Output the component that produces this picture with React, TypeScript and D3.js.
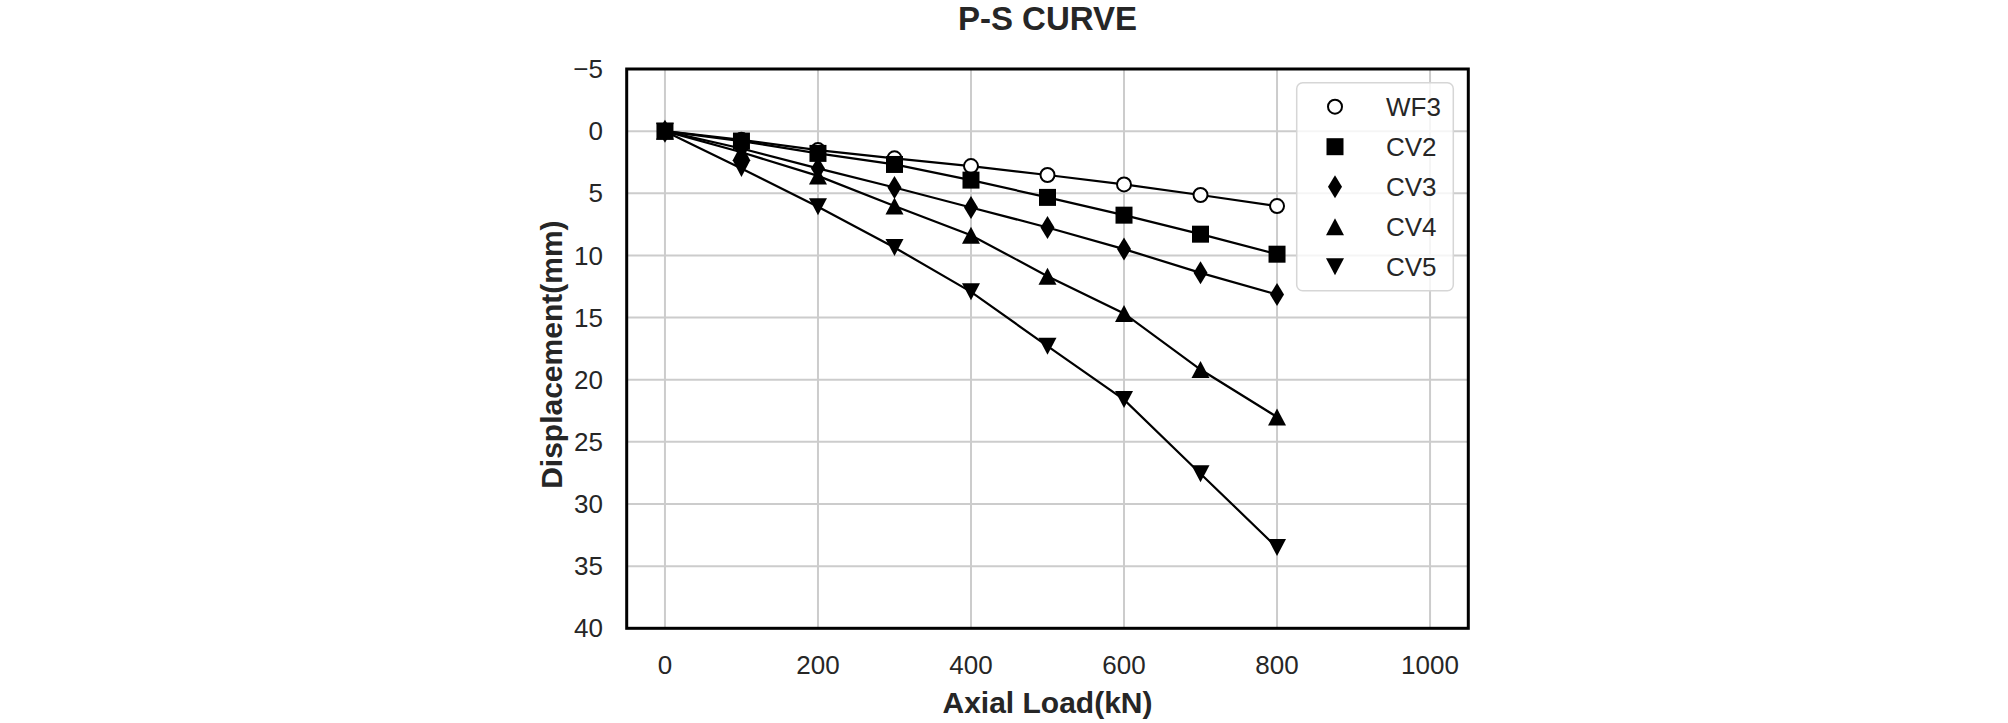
import React, { useRef, useEffect } from 'react'
import * as d3 from "d3";

// axial load steps (kN)
const loads = [0, 100, 200, 300, 400, 500, 600, 700, 800];

// displacement (mm) for each pile
const wf3 = [0, 0.7, 1.52, 2.19, 2.81, 3.53, 4.29, 5.14, 6.03];
const cv2 = [0, 0.8, 1.79, 2.68, 3.94, 5.33, 6.76, 8.29, 9.9];
const cv3 = [0, 1.4, 3.0, 4.53, 6.14, 7.75, 9.49, 11.4, 13.14];
const cv4 = [0, 1.7, 3.6, 6.03, 8.37, 11.67, 14.67, 19.18, 23.0];
const cv5 = [0, 3.0, 6.08, 9.36, 12.93, 17.3, 21.6, 27.56, 33.5];

const seriesNames = ["WF3", "CV2", "CV3", "CV4", "CV5"];
const seriesValues = [wf3, cv2, cv3, cv4, cv5];
const markerShapes = ["circle", "square", "diamond", "triangleUp", "triangleDown"];

const xTicks = [0, 200, 400, 600, 800, 1000];
const yTicks = [-5, 0, 5, 10, 15, 20, 25, 30, 35, 40];

const FONT = "'Liberation Sans', Arial, Helvetica, sans-serif";
const TEXT = "#262626";

// marker path centred on 0,0
const markerPath = (shape) => {
    switch (shape) {
        case "square":
            return "M-8.5,-8.5H8.5V8.5H-8.5Z";
        case "diamond":
            return "M0,-11.5L7,0L0,11.5L-7,0Z";
        case "triangleUp":
            return "M0,-8.5L9,8.5L-9,8.5Z";
        case "triangleDown":
            return "M0,8.5L9,-8.5L-9,-8.5Z";
        default:
            return null;
    }
};

function App() {

    const chartRef = useRef(null);

    useEffect(() => {
        drawChart();
    }, []);

    const drawChart = () => {
        if (!chartRef.current) return;

        const width = 2008;
        const height = 723;

        // plot frame
        const left = 626.7, right = 1468.3, top = 69, bottom = 628.3;

        d3.select(chartRef.current).selectAll("*").remove();

        const svg = d3.select(chartRef.current)
            .attr("width", width)
            .attr("height", height);

        const x = d3.scaleLinear().domain([-50, 1050]).range([left, right]);
        const y = d3.scaleLinear().domain([-5, 40]).range([top, bottom]);

        // background
        svg.append("rect")
            .attr("width", width)
            .attr("height", height)
            .attr("fill", "#fff");

        // grid
        const grid = svg.append("g");
        grid.selectAll(".vgrid")
            .data(xTicks)
            .enter()
            .append("line")
            .attr("x1", d => x(d))
            .attr("x2", d => x(d))
            .attr("y1", top)
            .attr("y2", bottom)
            .attr("stroke", "#cccccc")
            .attr("stroke-width", 2);

        grid.selectAll(".hgrid")
            .data(yTicks)
            .enter()
            .append("line")
            .attr("x1", left)
            .attr("x2", right)
            .attr("y1", d => y(d))
            .attr("y2", d => y(d))
            .attr("stroke", "#cccccc")
            .attr("stroke-width", 2);

        // tick labels
        svg.selectAll(".xtick")
            .data(xTicks)
            .enter()
            .append("text")
            .attr("x", d => x(d))
            .attr("y", 674)
            .attr("text-anchor", "middle")
            .attr("font-family", FONT)
            .attr("font-size", 26)
            .attr("fill", TEXT)
            .text(d => d);

        svg.selectAll(".ytick")
            .data(yTicks)
            .enter()
            .append("text")
            .attr("x", 603)
            .attr("y", d => y(d))
            .attr("dy", "0.35em")
            .attr("text-anchor", "end")
            .attr("font-family", FONT)
            .attr("font-size", 26)
            .attr("fill", TEXT)
            .text(d => (d < 0 ? "\u2212" + Math.abs(d) : d));

        // lines and markers
        const line = d3.line()
            .x((d, i) => x(loads[i]))
            .y(d => y(d));

        seriesValues.forEach((vals, si) => {
            const g = svg.append("g");
            g.append("path")
                .attr("d", line(vals))
                .attr("fill", "none")
                .attr("stroke", "#000")
                .attr("stroke-width", 2.2);

            const shape = markerShapes[si];
            if (shape === "circle") {
                g.selectAll("circle")
                    .data(vals)
                    .enter()
                    .append("circle")
                    .attr("cx", (d, i) => x(loads[i]))
                    .attr("cy", d => y(d))
                    .attr("r", 7)
                    .attr("fill", "#fff")
                    .attr("stroke", "#000")
                    .attr("stroke-width", 2);
            } else {
                g.selectAll(".mk")
                    .data(vals)
                    .enter()
                    .append("path")
                    .attr("d", markerPath(shape))
                    .attr("transform", (d, i) => `translate(${x(loads[i])},${y(d)})`)
                    .attr("fill", "#000");
            }
        });

        // frame
        svg.append("rect")
            .attr("x", left)
            .attr("y", top)
            .attr("width", right - left)
            .attr("height", bottom - top)
            .attr("fill", "none")
            .attr("stroke", "#000")
            .attr("stroke-width", 3);

        // axis labels
        svg.append("text")
            .attr("x", (left + right) / 2)
            .attr("y", 713)
            .attr("text-anchor", "middle")
            .attr("font-family", FONT)
            .attr("font-weight", "bold")
            .attr("font-size", 30)
            .attr("fill", TEXT)
            .text("Axial Load(kN)");

        svg.append("text")
            .attr("text-anchor", "middle")
            .attr("transform", `translate(562, ${(top + bottom) / 2 + 6}) rotate(-90)`)
            .attr("font-family", FONT)
            .attr("font-weight", "bold")
            .attr("font-size", 30)
            .attr("fill", TEXT)
            .text("Displacement(mm)");

        // title
        svg.append("text")
            .attr("x", (left + right) / 2)
            .attr("y", 30)
            .attr("text-anchor", "middle")
            .attr("font-family", FONT)
            .attr("font-weight", "bold")
            .attr("font-size", 33)
            .attr("fill", TEXT)
            .text("P-S CURVE");

        // legend
        const legend = svg.append("g");
        legend.append("rect")
            .attr("x", 1296.7)
            .attr("y", 82.7)
            .attr("width", 156.6)
            .attr("height", 208)
            .attr("rx", 6)
            .attr("fill", "#fff")
            .attr("fill-opacity", 0.8)
            .attr("stroke", "#d6d6d6")
            .attr("stroke-width", 1.5);

        const items = legend.selectAll(".legend")
            .data(seriesNames)
            .enter()
            .append("g")
            .attr("transform", (d, i) => `translate(1335, ${106.7 + i * 40})`);

        items.each(function (d, i) {
            const g = d3.select(this);
            const shape = markerShapes[i];
            if (shape === "circle") {
                g.append("circle")
                    .attr("r", 7)
                    .attr("fill", "#fff")
                    .attr("stroke", "#000")
                    .attr("stroke-width", 2);
            } else {
                g.append("path")
                    .attr("d", markerPath(shape))
                    .attr("fill", "#000");
            }
        });

        items.append("text")
            .attr("x", 51)
            .attr("dy", "0.35em")
            .attr("font-family", FONT)
            .attr("font-size", 26)
            .attr("fill", TEXT)
            .text(d => d);
    };

    return (
        <div style={{ position: "absolute", left: 0, top: 0 }}>
            <svg ref={chartRef}></svg>
        </div>
    )
}

export default App
